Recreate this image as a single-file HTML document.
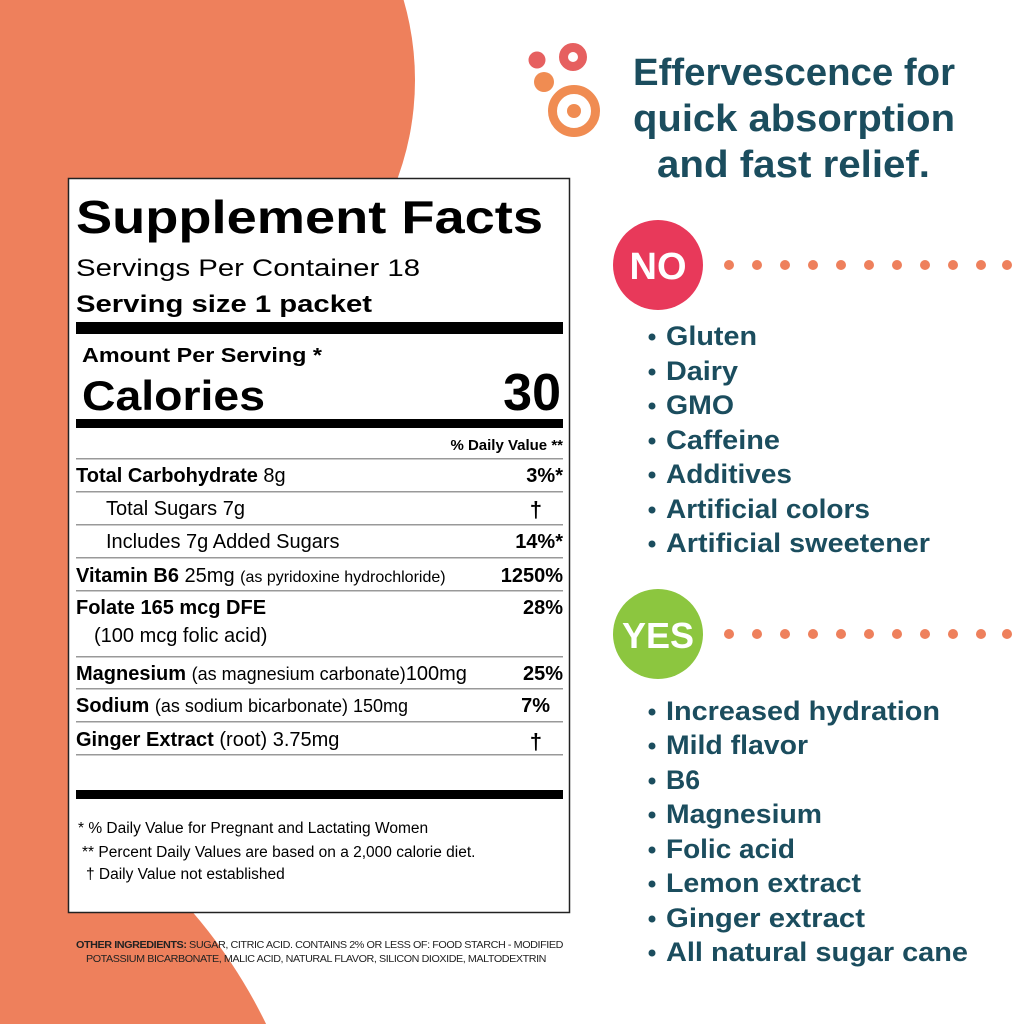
<!DOCTYPE html>
<html><head><meta charset="utf-8"><style>html,body{margin:0;padding:0;background:#fff;overflow:hidden;width:1012px;height:1024px}svg{display:block}</style></head>
<body>
<svg width="1012" height="1024" viewBox="0 0 1012 1024" xmlns="http://www.w3.org/2000/svg" font-family="Liberation Sans, Arial, sans-serif">
<rect width="1012" height="1024" fill="#fff"/>
<circle cx="128" cy="80" r="287" fill="#EE805C"/>
<rect x="0" y="0" width="160" height="1024" fill="#EE805C"/>
<rect x="0" y="150" width="300" height="760" fill="#EE805C"/>
<circle cx="-200" cy="1250" r="518" fill="#EE805C"/>
<circle cx="537" cy="60" r="8.5" fill="#E66060"/>
<circle cx="573" cy="57" r="9.5" fill="none" stroke="#E66060" stroke-width="9"/>
<circle cx="544" cy="82" r="10" fill="#F08C52"/>
<circle cx="574" cy="111" r="21.5" fill="none" stroke="#F08C52" stroke-width="9"/>
<circle cx="574" cy="111" r="7" fill="#F08C52"/>
<rect x="68.5" y="178.5" width="501" height="734" fill="#fff" stroke="#222" stroke-width="1.5"/>
<g fill="#000">
<text x="76" y="233" font-size="46" font-weight="bold" textLength="467" lengthAdjust="spacingAndGlyphs">Supplement Facts</text>
<text x="76" y="276" font-size="24" textLength="344" lengthAdjust="spacingAndGlyphs">Servings Per Container 18</text>
<text x="76" y="312" font-size="24" font-weight="bold" textLength="296" lengthAdjust="spacingAndGlyphs">Serving size 1 packet</text>
<rect x="76" y="322" width="487" height="12"/>
<text x="82" y="362" font-size="20" font-weight="bold" textLength="240" lengthAdjust="spacingAndGlyphs">Amount Per Serving *</text>
<text x="82" y="410" font-size="42" font-weight="bold" textLength="183" lengthAdjust="spacingAndGlyphs">Calories</text>
<text x="561" y="410" font-size="52" font-weight="bold" text-anchor="end">30</text>
<rect x="76" y="419" width="487" height="9"/>
<text x="563" y="450" font-size="15" font-weight="bold" text-anchor="end">% Daily Value **</text>
<g font-size="20">
<text x="76" y="482"><tspan font-weight="bold">Total Carbohydrate</tspan> 8g</text>
<text x="563" y="482" text-anchor="end" font-weight="bold">3%*</text>
<text x="106" y="515">Total Sugars 7g</text>
<text x="542" y="517" text-anchor="end" font-weight="bold" font-size="22">†</text>
<text x="106" y="548">Includes 7g Added Sugars</text>
<text x="563" y="548" text-anchor="end" font-weight="bold">14%*</text>
<text x="76" y="582"><tspan font-weight="bold">Vitamin B6</tspan> 25mg <tspan font-size="16">(as pyridoxine hydrochloride)</tspan></text>
<text x="563" y="582" text-anchor="end" font-weight="bold">1250%</text>
<text x="76" y="614" font-weight="bold">Folate 165 mcg DFE</text>
<text x="563" y="614" text-anchor="end" font-weight="bold">28%</text>
<text x="94" y="642">(100 mcg folic acid)</text>
<text x="76" y="680"><tspan font-weight="bold">Magnesium</tspan> <tspan font-size="18">(as magnesium carbonate)</tspan>100mg</text>
<text x="563" y="680" text-anchor="end" font-weight="bold">25%</text>
<text x="76" y="712"><tspan font-weight="bold">Sodium</tspan> <tspan font-size="18">(as sodium bicarbonate) 150mg</tspan></text>
<text x="550" y="712" text-anchor="end" font-weight="bold">7%</text>
<text x="76" y="746"><tspan font-weight="bold">Ginger Extract</tspan> (root) 3.75mg</text>
<text x="542" y="749" text-anchor="end" font-weight="bold" font-size="22">†</text>
</g>
<g fill="#999">
<rect x="76" y="458" width="487" height="1.5"/>
<rect x="76" y="491" width="487" height="1.5"/>
<rect x="76" y="524" width="487" height="1.5"/>
<rect x="76" y="557" width="487" height="1.5"/>
<rect x="76" y="590" width="487" height="1.5"/>
<rect x="76" y="656" width="487" height="1.5"/>
<rect x="76" y="688" width="487" height="1.5"/>
<rect x="76" y="721" width="487" height="1.5"/>
<rect x="76" y="754" width="487" height="1.5"/>
</g>
<rect x="76" y="790" width="487" height="9"/>
<g font-size="15.5">
<text x="78" y="833">* % Daily Value for Pregnant and Lactating Women</text>
<text x="82" y="857">** Percent Daily Values are based on a 2,000 calorie diet.</text>
<text x="86" y="879">† Daily Value not established</text>
</g>
</g>
<g font-size="10" fill="#222" letter-spacing="-0.4">
<text x="76" y="948" textLength="487" lengthAdjust="spacingAndGlyphs"><tspan font-weight="bold">OTHER INGREDIENTS:</tspan> SUGAR, CITRIC ACID. CONTAINS 2% OR LESS OF: FOOD STARCH - MODIFIED</text>
<text x="86" y="962" textLength="460" lengthAdjust="spacingAndGlyphs">POTASSIUM BICARBONATE, MALIC ACID, NATURAL FLAVOR, SILICON DIOXIDE, MALTODEXTRIN</text>
</g>
<g fill="#1B4D5E" font-weight="bold" font-size="38">
<text x="633" y="85" textLength="322" lengthAdjust="spacingAndGlyphs">Effervescence for</text>
<text x="633" y="131" textLength="322" lengthAdjust="spacingAndGlyphs">quick absorption</text>
<text x="657" y="177" textLength="273" lengthAdjust="spacingAndGlyphs">and fast relief.</text>
</g>
<circle cx="658" cy="265" r="45" fill="#E8395A"/>
<text x="658" y="279" font-size="38" font-weight="bold" fill="#fff" text-anchor="middle">NO</text>
<circle cx="658" cy="634" r="45" fill="#8CC63F"/>
<text x="658" y="648" font-size="36" font-weight="bold" fill="#fff" text-anchor="middle">YES</text>
<g fill="#EE805C">
<circle cx="729" cy="265" r="5"/><circle cx="757" cy="265" r="5"/><circle cx="785" cy="265" r="5"/><circle cx="813" cy="265" r="5"/><circle cx="841" cy="265" r="5"/><circle cx="869" cy="265" r="5"/><circle cx="897" cy="265" r="5"/><circle cx="925" cy="265" r="5"/><circle cx="953" cy="265" r="5"/><circle cx="981" cy="265" r="5"/><circle cx="1007" cy="265" r="5"/>
<circle cx="729" cy="634" r="5"/><circle cx="757" cy="634" r="5"/><circle cx="785" cy="634" r="5"/><circle cx="813" cy="634" r="5"/><circle cx="841" cy="634" r="5"/><circle cx="869" cy="634" r="5"/><circle cx="897" cy="634" r="5"/><circle cx="925" cy="634" r="5"/><circle cx="953" cy="634" r="5"/><circle cx="981" cy="634" r="5"/><circle cx="1007" cy="634" r="5"/>
</g>
<g fill="#1B4D5E">
<circle cx="652" cy="337" r="3.5"/><circle cx="652" cy="372" r="3.5"/><circle cx="652" cy="406" r="3.5"/><circle cx="652" cy="441" r="3.5"/><circle cx="652" cy="475" r="3.5"/><circle cx="652" cy="510" r="3.5"/><circle cx="652" cy="544" r="3.5"/>
<circle cx="652" cy="712" r="3.5"/><circle cx="652" cy="746" r="3.5"/><circle cx="652" cy="781" r="3.5"/><circle cx="652" cy="815" r="3.5"/><circle cx="652" cy="850" r="3.5"/><circle cx="652" cy="884" r="3.5"/><circle cx="652" cy="919" r="3.5"/><circle cx="652" cy="953" r="3.5"/>
</g>
<g fill="#1B4D5E" font-weight="bold" font-size="27" lengthAdjust="spacingAndGlyphs">
<text x="666" y="345" textLength="91" lengthAdjust="spacingAndGlyphs">Gluten</text>
<text x="666" y="380" textLength="72" lengthAdjust="spacingAndGlyphs">Dairy</text>
<text x="666" y="414" textLength="68" lengthAdjust="spacingAndGlyphs">GMO</text>
<text x="666" y="449" textLength="114" lengthAdjust="spacingAndGlyphs">Caffeine</text>
<text x="666" y="483" textLength="126" lengthAdjust="spacingAndGlyphs">Additives</text>
<text x="666" y="518" textLength="204" lengthAdjust="spacingAndGlyphs">Artificial colors</text>
<text x="666" y="552" textLength="264" lengthAdjust="spacingAndGlyphs">Artificial sweetener</text>
<text x="666" y="720" textLength="274" lengthAdjust="spacingAndGlyphs">Increased hydration</text>
<text x="666" y="754" textLength="142" lengthAdjust="spacingAndGlyphs">Mild flavor</text>
<text x="666" y="789" textLength="34" lengthAdjust="spacingAndGlyphs">B6</text>
<text x="666" y="823" textLength="156" lengthAdjust="spacingAndGlyphs">Magnesium</text>
<text x="666" y="858" textLength="129" lengthAdjust="spacingAndGlyphs">Folic acid</text>
<text x="666" y="892" textLength="195" lengthAdjust="spacingAndGlyphs">Lemon extract</text>
<text x="666" y="927" textLength="199" lengthAdjust="spacingAndGlyphs">Ginger extract</text>
<text x="666" y="961" textLength="302" lengthAdjust="spacingAndGlyphs">All natural sugar cane</text>
</g>
</svg>
</body></html>
